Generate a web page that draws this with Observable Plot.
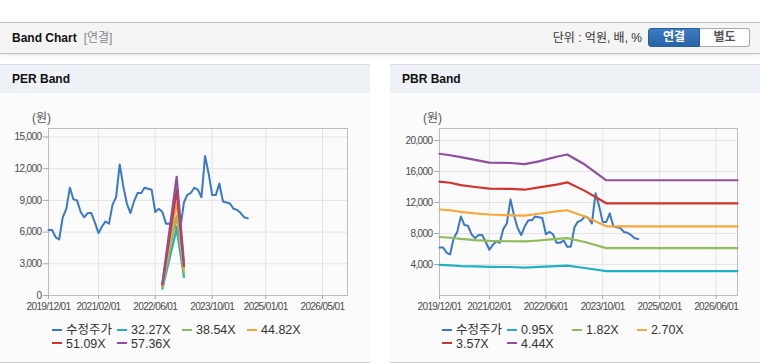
<!DOCTYPE html>
<html><head><meta charset="utf-8">
<script src="https://cdn.jsdelivr.net/npm/d3@7"></script>
<script src="https://cdn.jsdelivr.net/npm/@observablehq/plot@0.6"></script>
<style>
body{margin:0;width:760px;height:364px;position:relative;background:#fff;font-family:"Liberation Sans","Noto Sans CJK KR",sans-serif;overflow:hidden}
.hdr{position:absolute;left:0;top:22px;width:760px;height:30px;background:#f4f4f4;border-top:1px solid #bdbdbd;border-bottom:1px solid #c4c4c4;box-shadow:0 1px 3px rgba(0,0,0,.12)}
.hdr .t{position:absolute;left:12px;top:0;line-height:30px;font-size:12px;font-weight:bold;color:#111}
.hdr .s{font-weight:normal;color:#888;margin-left:7px}
.unit{position:absolute;right:118px;top:0;line-height:30px;font-size:12px;color:#333}
.btn{position:absolute;top:5px;height:19px;line-height:17px;text-align:center;font-size:12px;font-weight:bold;box-sizing:border-box}
.b1{left:648px;width:52px;background:linear-gradient(#3b7cc4,#2a63a6);color:#fff;border-radius:3px 0 0 3px;border:1px solid #2a5f9e}
.b2{left:700px;width:50px;background:#fff;color:#555;border:1px solid #aaa;border-left:none;border-radius:0 3px 3px 0}
.panel{position:absolute;top:64px;width:370px;height:297px;background:#fbfbfb;border-top:1px solid #dcdcdc;border-bottom:1px solid #cfcfcf}
.ptitle{height:28px;line-height:28px;background:#eef1f6;padding-left:12px;font-size:12px;font-weight:bold;color:#111}
.unitlbl{position:absolute;top:46px;font-size:12px;line-height:14px;color:#555}
.chart{position:absolute;left:0;top:35px}
.li{position:absolute;white-space:nowrap;line-height:13px;font-size:12.5px;color:#333}
.sw{display:inline-block;width:10px;height:2px;vertical-align:middle;margin-right:4px;position:relative;top:-1px}
</style>
</head><body>
<div class="hdr"><div class="t">Band Chart<span class="s">[연결]</span></div>
<div class="unit">단위 : 억원, 배, %</div>
<div class="btn b1">연결</div><div class="btn b2">별도</div></div>
<div class="panel" id="p1" style="left:0"><div class="ptitle">PER Band</div><div class="unitlbl" style="left:32px">(원)</div></div>
<div class="panel" id="p2" style="left:390px"><div class="ptitle">PBR Band</div><div class="unitlbl" style="left:33px">(원)</div></div>
<script>
// ---- data ----
const priceStart = "2019-12-01", priceEnd = "2024-09-01"; // monthly, last point 2024/08
const price = [6200,6200,5500,5300,7400,8200,10200,9100,9000,7900,7400,7800,7800,6900,5900,6500,7000,6800,8600,9300,
  12400,10300,8700,7800,8900,9700,9700,10200,10100,10000,7900,8200,7900,6800,6800,7100,6300,6300,8800,9500,
  9700,10200,10000,9300,13200,11500,9500,9500,10600,8900,8800,8700,8200,8100,7800,7400,7300];

const perDates = ["2022-08-01","2022-12-01","2023-02-01"];
const per3227 = [650,6320,1760];
const per3854 = [770,7540,2100];
const per4482 = [900,8770,2440];
const per5109 = [1020,9990,2780];
const per5736 = [1150,11220,3120];

const pbrDates = ["2019-12-01","2020-03-01","2020-06-01","2020-10-01","2021-02-01","2021-08-01","2021-12-01",
  "2022-04-01","2022-09-01","2022-12-01","2023-05-01","2023-11-01","2026-12-01"];
const pbr095 = [3950,3900,3800,3750,3700,3680,3600,3700,3800,3850,3550,3150,3150];
const pbr182 = [7550,7450,7300,7150,7050,7000,6980,7100,7300,7400,6900,6120,6120];
const pbr270 = [11100,11000,10800,10600,10450,10350,10300,10550,10850,11000,10200,8930,8930];
const pbr357 = [14700,14550,14250,14000,13780,13750,13650,13950,14300,14600,13500,11900,11900];
const pbr444 = [18290,18100,17850,17500,17150,17100,16950,17300,17900,18200,16900,14870,14870];

const perNames = ["수정주가","32.27X","38.54X","44.82X","51.09X","57.36X"];
const pbrNames = ["수정주가","0.95X","1.82X","2.70X","3.57X","4.44X"];
const colors = ["#3a78c8","#22b0c4","#8fbb59","#f5a83b","#d2332f","#8f4f9d"];

const perXTicks = ["2019-12-01","2021-02-01","2022-06-01","2023-10-01","2025-01-01","2026-05-01"];
const pbrXTicks = ["2019-12-01","2021-02-01","2022-06-01","2023-10-01","2025-02-01","2026-06-01"];
const perYTicks = [0,3000,6000,9000,12000,15000];
const pbrYTicks = [4000,8000,12000,16000,20000];
const xDomain = ["2019-12-01","2026-12-01"];

// ---- build ----
const P = d3.utcParse("%Y-%m-%d");
const priceDates = d3.utcMonth.range(P(priceStart), P(priceEnd));
const priceRows = price.map((v,i)=>({date:priceDates[i], value:v}));
const rows = (dates, vals) => vals.map((v,i)=>({date:P(dates[i]), value:v}));

function chart(bands, bandDates, xTicks, yTicks, yMax, mL, mR) {
  const marks = [
    Plot.gridX(xTicks.map(P), {stroke:"#e4e4e4", strokeOpacity:1}),
    Plot.gridY(yTicks, {stroke:"#e4e4e4", strokeOpacity:1}),
    Plot.frame({stroke:"#bdbdbd"}),
    Plot.axisX({ticks:xTicks.map(P), tickFormat:d3.utcFormat("%Y/%m/%d"), tickSize:4, tickPadding:3, stroke:"#aaa", fill:"#4a4a4a", label:null}),
    Plot.axisY({ticks:yTicks, tickFormat:d3.format(","), tickSize:5, tickPadding:2, stroke:"#aaa", fill:"#4a4a4a", label:null}),
    Plot.line(priceRows, {x:"date", y:"value", stroke:colors[0], strokeWidth:2})
  ];
  bands.forEach((b,k)=>marks.push(Plot.line(rows(bandDates,b), {x:"date", y:"value", stroke:colors[k+1], strokeWidth:2.2})));
  return Plot.plot({
    width:370, height:220, marginTop:28, marginBottom:25, marginLeft:mL, marginRight:mR,
    style:{background:"transparent", fontFamily:"'Liberation Sans',sans-serif", fontSize:"10px", letterSpacing:"-0.6px", color:"#4a4a4a"},
    x:{type:"utc", domain:xDomain.map(P)},
    y:{domain:[0,yMax]},
    marks
  });
}
function legend(panel, names) {
  const xs = [52,117,182,247];
  names.forEach((n,i)=>{
    const d = document.createElement("div");
    d.className = "li";
    d.style.left = xs[i%4] + "px";
    d.style.top = (i<4 ? 259 : 272.5) + "px";
    d.innerHTML = `<span class="sw" style="background:${colors[i]}"></span>${n}`;
    panel.appendChild(d);
  });
}
const c1 = chart([per3227,per3854,per4482,per5109,per5736], perDates, perXTicks, perYTicks, 15800, 48, 23);
c1.classList.add("chart");
document.getElementById("p1").appendChild(c1);
const c2 = chart([pbr095,pbr182,pbr270,pbr357,pbr444], pbrDates, pbrXTicks, pbrYTicks, 21550, 49, 23);
c2.classList.add("chart");
document.getElementById("p2").appendChild(c2);
legend(document.getElementById("p1"), perNames);
legend(document.getElementById("p2"), pbrNames);
</script>
</body></html>
